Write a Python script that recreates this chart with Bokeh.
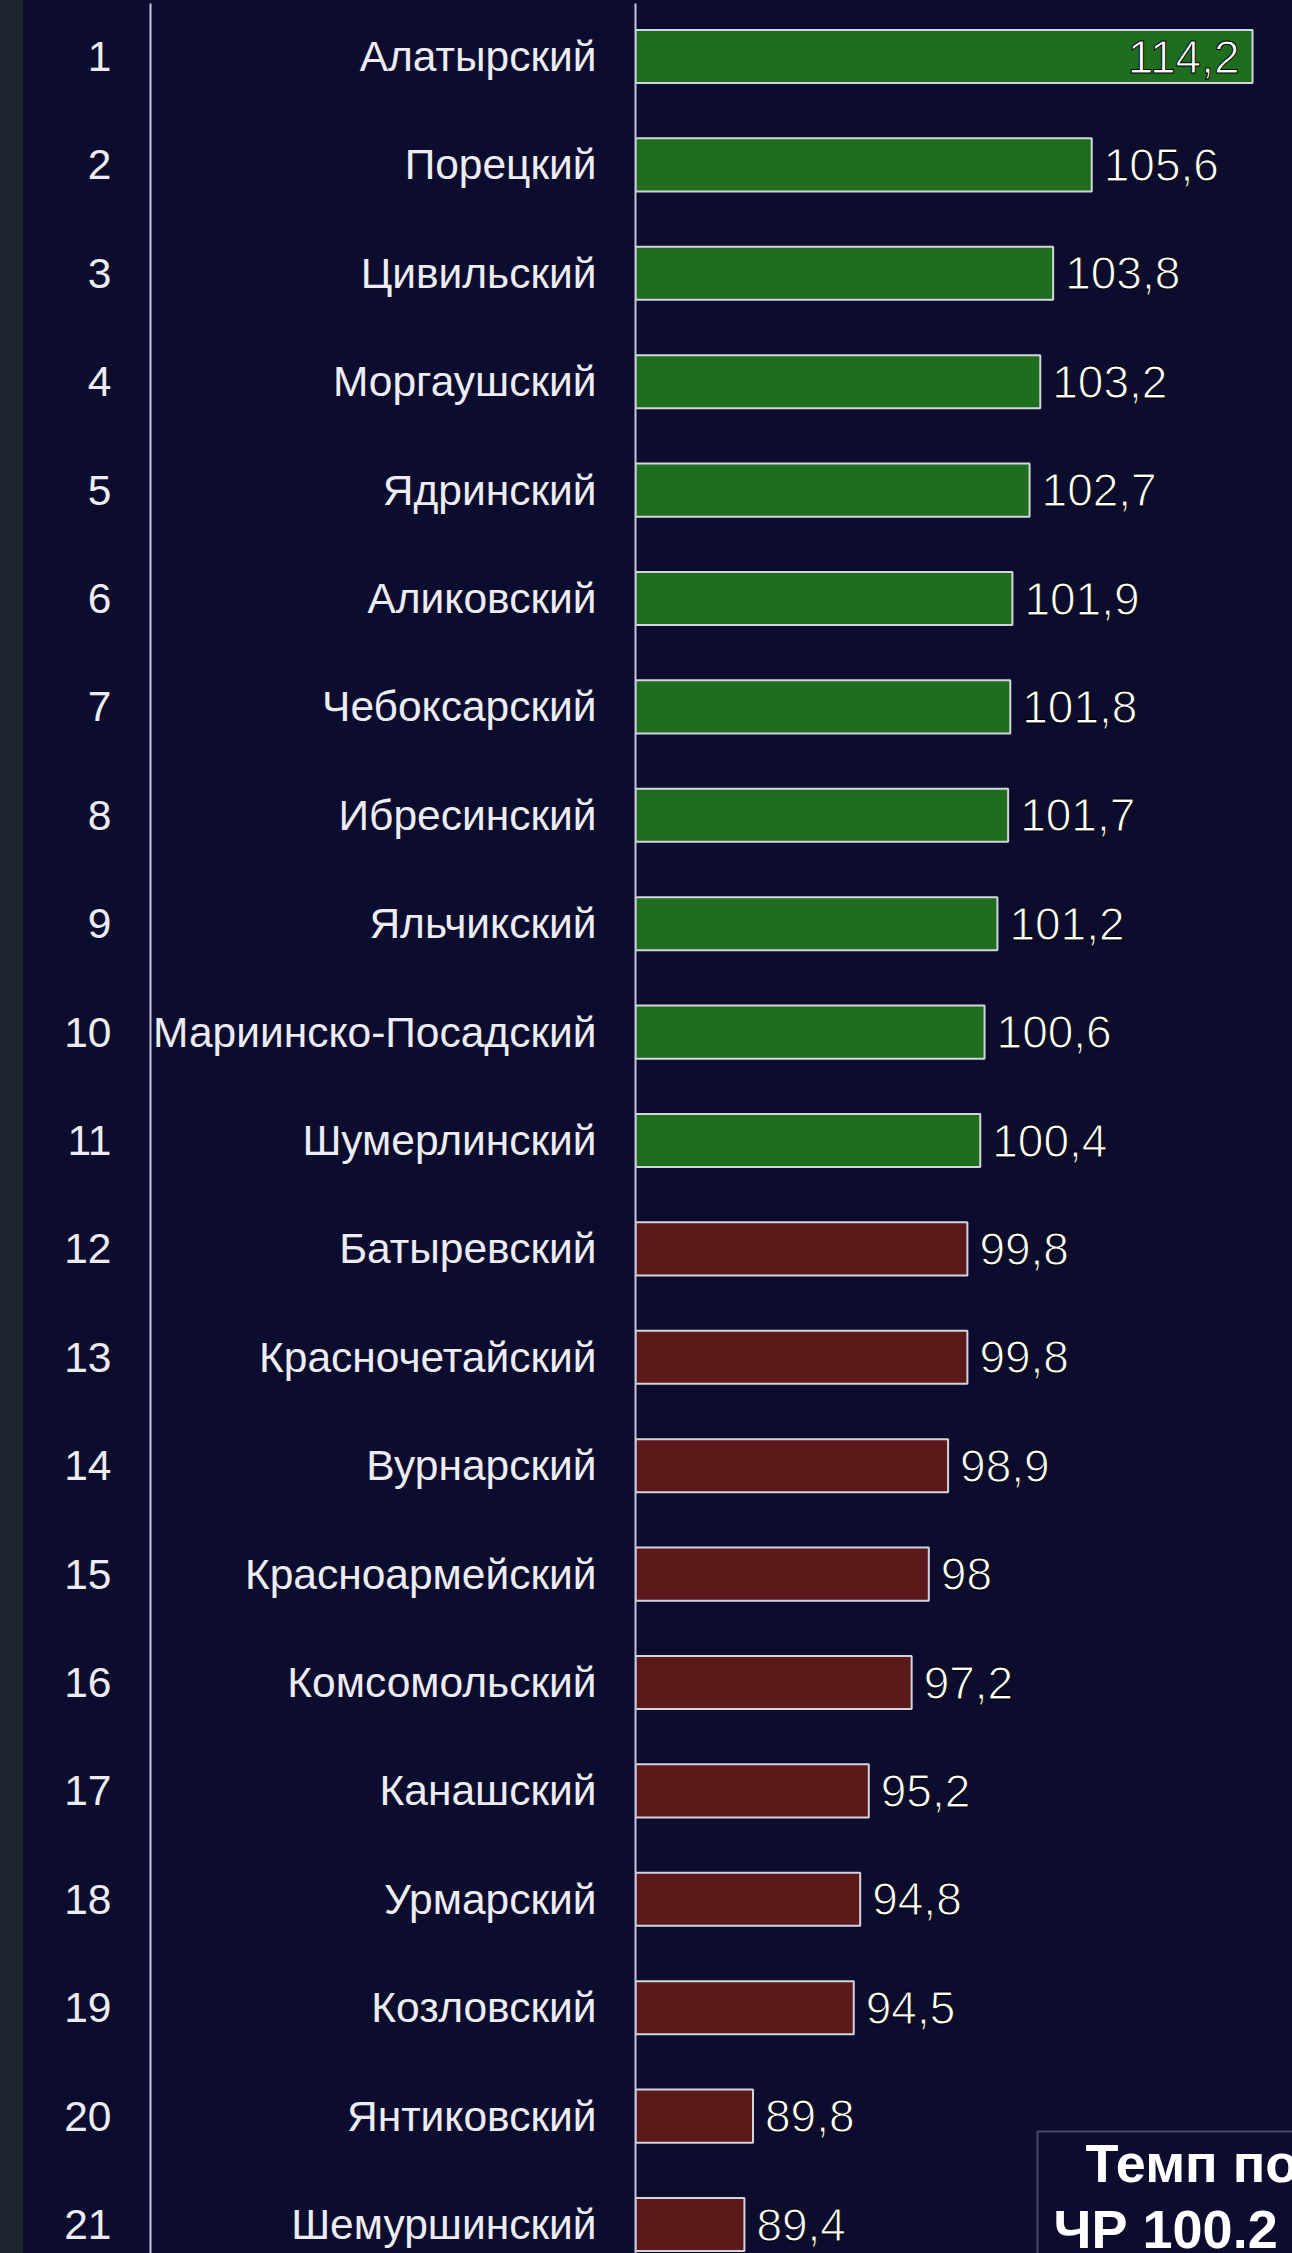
import numpy as np
from bokeh.plotting import figure
from bokeh.models import (ColumnDataSource, Range1d, LinearAxis, FixedTicker,
                          BoxAnnotation, Label, Spacer)
from bokeh.layouts import row
from bokeh.core.properties import value
from bokeh.embed import file_html
from bokeh.resources import INLINE

# ---------------- data ----------------
names = ["Алатырский", "Порецкий", "Цивильский", "Моргаушский", "Ядринский",
         "Аликовский", "Чебоксарский", "Ибресинский", "Яльчикский",
         "Мариинско-Посадский", "Шумерлинский", "Батыревский", "Красночетайский",
         "Вурнарский", "Красноармейский", "Комсомольский", "Канашский",
         "Урмарский", "Козловский", "Янтиковский", "Шемуршинский"]
values = [114.2, 105.6, 103.8, 103.2, 102.7, 101.9, 101.8, 101.7, 101.2, 100.6,
          100.4, 99.8, 99.8, 98.9, 98.0, 97.2, 95.2, 94.8, 94.5, 89.8, 89.4]
ranks = list(range(1, len(names) + 1))
region_name = "ЧР"
region_value = 100.2
box_title = "Темп по"

# ---------------- style ----------------
NAVY = "#0c0c2e"
STRIP = "#1c2530"
GREEN = "#1f6e1f"
RED = "#5c1919"
OUTLINE = "#d4d4dc"
AXIS_LINE = "#c4c8dc"
TEXT = "#ececf2"
FONT = "Liberation Sans"

FIG_W = 1269
FIG_H = 2253
TOP_PAD = 3
X_START = 84.32      # value at the vertical axis line
X_CAP = 113.1        # right edge of the original plot area
PX_PER_UNIT = 21.44
FRAME_W = FIG_W - 612
X_END = X_START + FRAME_W / PX_PER_UNIT
Y_TOP = 0.511
ROW_PX = 108.4
Y_BOTTOM = Y_TOP + (FIG_H - TOP_PAD) / ROW_PX

vals = np.array(values)
right = np.minimum(vals, X_CAP)
colors = [GREEN if v >= region_value else RED for v in values]
labels = [f"{v:g}".replace(".", ",") for v in values]
inside = vals > X_CAP
lx = [-13 if i else 12 for i in inside]
la = ["right" if i else "left" for i in inside]

src = ColumnDataSource(dict(rank=ranks, left=[X_START] * len(ranks), right=right,
                            color=colors, label=labels, lx=lx, la=la))

p = figure(width=FIG_W, height=FIG_H, x_range=Range1d(X_START, X_END),
           y_range=Range1d(Y_BOTTOM, Y_TOP),
           x_axis_location=None, y_axis_location=None,
           toolbar_location=None, output_backend="svg",
           min_border_left=612, min_border_right=0, min_border_top=TOP_PAD,
           min_border_bottom=0)
p.background_fill_color = NAVY
p.border_fill_color = NAVY
p.outline_line_color = None
try:
    p.grid.visible = False
except Exception:
    pass


def make_axis(overrides, standoff):
    ax = LinearAxis(ticker=FixedTicker(ticks=ranks), major_label_overrides=overrides)
    ax.major_label_standoff = standoff
    ax.major_label_text_font = FONT
    ax.major_label_text_font_size = "42.5px"
    ax.major_label_text_color = TEXT
    ax.major_tick_line_color = None
    ax.minor_tick_line_color = None
    ax.major_tick_out = 0
    ax.major_tick_in = 0
    ax.minor_tick_out = 0
    ax.minor_tick_in = 0
    ax.axis_line_color = AXIS_LINE
    ax.axis_line_width = 2
    return ax


name_axis = make_axis({r: n for r, n in zip(ranks, names)}, 39)
rank_axis = make_axis({r: str(r) for r in ranks}, 39)
p.add_layout(name_axis, "left")
p.add_layout(rank_axis, "left")

p.hbar(y="rank", left="left", right="right", height=0.49, source=src,
       fill_color="color", line_color=OUTLINE, line_width=2)

text_kw = dict(x="right", y="rank", text="label", x_offset="lx", text_align="la",
               text_baseline="middle", text_font=value(FONT), text_font_size="46px",
               text_color="white", source=src)
try:
    p.text(text_outline_color="#000000", **text_kw)
except Exception:
    p.text(**text_kw)

# summary box (cut off by the picture edge in the original)
p.add_layout(BoxAnnotation(left=103.07, top=20.142, right=X_END + 10, bottom=Y_BOTTOM + 2,
                           fill_alpha=0, line_color=OUTLINE, line_width=2))
p.add_layout(Label(x=105.31, y=20.437, text=box_title, text_font=FONT,
                   text_font_style="bold", text_font_size="54px", text_color="white",
                   text_baseline="alphabetic"))
p.add_layout(Label(x=103.82, y=21.037, text=f"{region_name} {region_value}", text_font=FONT,
                   text_font_style="bold", text_font_size="54px", text_color="white",
                   text_baseline="alphabetic"))

strip = Spacer(width=23, height=FIG_H, styles={"background-color": STRIP})
layout = row(strip, p)

html = file_html(layout, INLINE, title="chart")
html = html.replace("</head>",
                    f"<style>html, body {{ background: {NAVY}; overflow: hidden; }}</style></head>", 1)
open("out.html", "w").write(html)
